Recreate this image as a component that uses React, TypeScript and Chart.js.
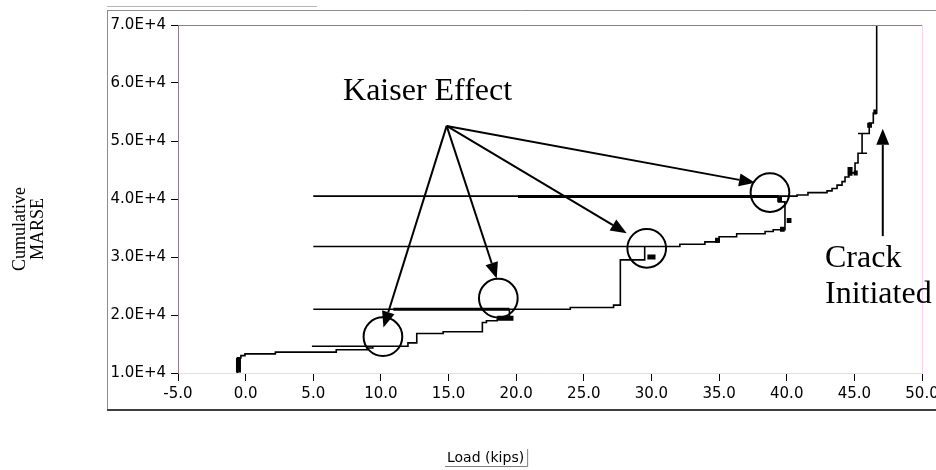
import React, { useEffect, useRef } from "react";
import { Chart, registerables } from "chart.js";

Chart.register(...registerables);

// ---------- data ----------
const xTickValues = [-5, 0, 5, 10, 15, 20, 25, 30, 35, 40, 45, 50];
const yTickValues = [10000, 20000, 30000, 40000, 50000, 60000, 70000];

// cumulative MARSE vs load path (load cycles included)
const pathLoad = [
  -0.6, -0.6, -0.35, -0.35, -0.05, -0.05, 2.2, 2.2, 6.7, 6.7, 9.0, 9.0, 9.4, 9.4,
  12.0, 4.9, 12.0, 12.0, 12.65, 12.65, 14.6, 14.6, 17.5, 17.5, 17.8, 17.8, 18.6, 18.6,
  19.5, 19.5, 5.0, 24.0, 24.0, 27.2, 27.2, 27.7, 27.7, 29.5, 29.5, 5.0, 32.1, 32.1,
  33.95, 33.95, 35.0, 35.0, 36.3, 36.3, 38.4, 38.4, 39.0, 39.0, 39.87, 39.87, 39.4, 39.4,
  5.0, 40.76, 40.76, 41.57, 41.57, 42.98, 42.98, 43.35, 43.35, 43.72, 43.72, 44.09, 44.09,
  44.31, 44.31, 44.6, 44.6, 45.05, 45.05, 45.27, 45.27, 45.94, 45.57, 45.57, 45.27, 45.94,
  46.1, 46.1, 46.4, 46.4, 46.65, 46.65,
];
const pathMarse = [
  10000, 12600, 12600, 13000, 13000, 13300, 13300, 13600, 13600, 14000, 14000, 14300, 14300, 14600,
  14600, 14600, 14600, 15200, 15200, 16800, 16800, 17100, 17100, 18700, 18700, 19000, 19000, 19300,
  19300, 21000, 21000, 21000, 21300, 21300, 21700, 21700, 29500, 29500, 31800, 31800, 31800, 32200,
  32200, 32600, 32600, 33500, 33500, 34000, 34000, 34400, 34400, 34700, 34700, 39500, 39500, 40500,
  40500, 40500, 40700, 40700, 41100, 41100, 41400, 41400, 41800, 41800, 42400, 42400, 43000,
  43000, 43800, 43800, 44500, 44500, 46200, 46200, 47900, 47900, 47900, 51300, 51300, 51300,
  51300, 53100, 53100, 54800, 54800, 70000,
];

// doubled (thick) stretches of the unload / reload lines
const thickStart = [10.92, 20.13];
const thickEnd = [19.5, 39.4];
const thickMarse = [21000, 40450];

// dense event clusters (short heavy marks)
const blobLoadA = [-0.53, 18.6, 29.7, 34.7, 39.5, 40.0, 39.3, 44.68, 44.95, 45.95, 46.4];
const blobLoadB = [-0.53, 19.8, 30.3, 35.05, 39.85, 40.35, 39.65, 44.68, 45.25, 46.3, 46.65];
const blobMarseA = [10100, 19450, 30000, 32900, 34800, 36300, 39900, 44000, 44500, 52700, 55000];
const blobMarseB = [12600, 19450, 30000, 32900, 34800, 36300, 39900, 45500, 44500, 52700, 55000];

// Kaiser effect annotation
const kaiserLabel = "Kaiser Effect";
const kaiserLabelAt = { load: 7.2, marse: 57100 };
const kaiserOrigin = { load: 14.86, marse: 52600 };
const circleLoad = [10.15, 18.68, 29.65, 38.76];
const circleMarse = [16260, 22900, 31500, 41100];
const circleRadiusLoad = 1.43;
const arrowTipLoad = [10.19, 18.56, 28.17, 37.66];
const arrowTipMarse = [17840, 26300, 34100, 42800];

// crack annotation
const crackLines = ["Crack", "Initiated"];
const crackLabelLoad = 42.83;
const crackLabelMarse = [28300, 22100];
const crackArrowLoad = 47.1;
const crackArrowFrom = 33600;
const crackArrowTo = 52100;

const yTitleLines = ["Cumulative", "MARSE"];
const xTitle = "Load (kips)";

// ---------- helpers ----------
function pairs(xs: number[], ys: number[]) {
  return xs.map((x, i) => ({ x, y: ys[i] }));
}
function segments(x1: number[], x2: number[], y1: number[], y2: number[]) {
  const out: any[] = [];
  x1.forEach((_, i) => {
    out.push({ x: x1[i], y: y1[i] });
    out.push({ x: x2[i], y: y2[i] });
    out.push({ x: x2[i], y: null });
  });
  return out;
}

function arrow(ctx: CanvasRenderingContext2D, x1: number, y1: number, x2: number, y2: number) {
  const len = 16;
  const half = 6.5;
  const ang = Math.atan2(y2 - y1, x2 - x1);
  const bx = x2 - len * Math.cos(ang);
  const by = y2 - len * Math.sin(ang);
  ctx.beginPath();
  ctx.moveTo(x1, y1);
  ctx.lineTo(bx, by);
  ctx.stroke();
  ctx.beginPath();
  ctx.moveTo(x2, y2);
  ctx.lineTo(bx + half * Math.sin(ang), by - half * Math.cos(ang));
  ctx.lineTo(bx - half * Math.sin(ang), by + half * Math.cos(ang));
  ctx.closePath();
  ctx.fill();
}

const overlayPlugin = {
  id: "overlay",
  beforeDraw(chart: any) {
    const { ctx, width, height, chartArea } = chart;
    ctx.save();
    ctx.fillStyle = "#ffffff";
    ctx.fillRect(0, 0, width, height);
    const fl = chartArea.left - 71;
    const ft = chartArea.top - 15;
    const fb = chartArea.bottom + 37;
    ctx.lineWidth = 1;
    ctx.strokeStyle = "#b4b4b4";
    ctx.beginPath();
    ctx.moveTo(fl, ft - 3.5);
    ctx.lineTo(fl + 210, ft - 3.5);
    ctx.stroke();
    ctx.strokeStyle = "#8c8c8c";
    ctx.beginPath();
    ctx.moveTo(fl, ft + 0.5);
    ctx.lineTo(width, ft + 0.5);
    ctx.moveTo(fl + 0.5, ft);
    ctx.lineTo(fl + 0.5, fb);
    ctx.stroke();
    ctx.strokeStyle = "#404040";
    ctx.lineWidth = 2;
    ctx.beginPath();
    ctx.moveTo(fl, fb);
    ctx.lineTo(width, fb);
    ctx.stroke();
    ctx.restore();
  },
  afterDraw(chart: any) {
    const { ctx, chartArea } = chart;
    const xs = chart.scales.x;
    const ys = chart.scales.y;
    ctx.save();
    // plot frame top / right
    ctx.lineWidth = 1;
    ctx.strokeStyle = "#8e7b8e";
    ctx.beginPath();
    ctx.moveTo(chartArea.left, chartArea.top + 0.5);
    ctx.lineTo(chartArea.right, chartArea.top + 0.5);
    ctx.stroke();
    ctx.strokeStyle = "#f6d2f6";
    ctx.beginPath();
    ctx.moveTo(chartArea.right + 0.5, chartArea.top);
    ctx.lineTo(chartArea.right + 0.5, chartArea.bottom);
    ctx.stroke();

    // Kaiser effect
    ctx.fillStyle = "#000";
    ctx.strokeStyle = "#000";
    ctx.font = '32px "Liberation Serif", "Times New Roman", serif';
    ctx.textAlign = "left";
    ctx.textBaseline = "alphabetic";
    ctx.fillText(kaiserLabel, xs.getPixelForValue(kaiserLabelAt.load), ys.getPixelForValue(kaiserLabelAt.marse));
    ctx.lineWidth = 2;
    const r = xs.getPixelForValue(circleRadiusLoad) - xs.getPixelForValue(0);
    circleLoad.forEach((cl, i) => {
      ctx.beginPath();
      ctx.arc(xs.getPixelForValue(cl), ys.getPixelForValue(circleMarse[i]), r, 0, Math.PI * 2);
      ctx.stroke();
    });
    const ox = xs.getPixelForValue(kaiserOrigin.load);
    const oy = ys.getPixelForValue(kaiserOrigin.marse);
    arrowTipLoad.forEach((tl, i) => {
      arrow(ctx, ox, oy, xs.getPixelForValue(tl), ys.getPixelForValue(arrowTipMarse[i]));
    });

    // crack
    const cx = xs.getPixelForValue(crackArrowLoad);
    arrow(ctx, cx, ys.getPixelForValue(crackArrowFrom), cx, ys.getPixelForValue(crackArrowTo));
    crackLines.forEach((t, i) => {
      ctx.fillText(t, xs.getPixelForValue(crackLabelLoad), ys.getPixelForValue(crackLabelMarse[i]));
    });

    // y title
    ctx.font = '18px "Liberation Serif", "Times New Roman", serif';
    ctx.textAlign = "center";
    const midY = chartArea.top + 204;
    yTitleLines.forEach((t, i) => {
      ctx.save();
      ctx.translate(25 + i * 18, midY);
      ctx.rotate(-Math.PI / 2);
      ctx.fillText(t, 0, 0);
      ctx.restore();
    });

    // x title with sunken box
    ctx.font = '14px "DejaVu Sans", sans-serif';
    ctx.textAlign = "left";
    const tx = 447;
    const tyBase = chartArea.bottom + 89;
    ctx.fillText(xTitle, tx, tyBase);
    const tw = ctx.measureText(xTitle).width;
    ctx.lineWidth = 1;
    ctx.strokeStyle = "#808080";
    ctx.beginPath();
    ctx.moveTo(tx - 2, tyBase + 4.5);
    ctx.lineTo(tx + tw + 3.5, tyBase + 4.5);
    ctx.lineTo(tx + tw + 3.5, tyBase - 13);
    ctx.stroke();
    ctx.restore();
  },
};

export default function App() {
  const ref = useRef<HTMLCanvasElement | null>(null);
  useEffect(() => {
    document.body.style.margin = "0";
    if (!ref.current) return;
    const tickFont = { family: '"DejaVu Sans", sans-serif', size: 15 };
    const chart = new Chart(ref.current, {
      type: "scatter",
      data: {
        datasets: [
          {
            data: pairs(pathLoad, pathMarse),
            showLine: true,
            borderColor: "#000",
            borderWidth: 1.6,
            pointRadius: 0,
            tension: 0,
          },
          {
            data: segments(thickStart, thickEnd, thickMarse, thickMarse),
            showLine: true,
            spanGaps: false,
            borderColor: "#000",
            borderWidth: 3,
            pointRadius: 0,
          },
          {
            data: segments(blobLoadA, blobLoadB, blobMarseA, blobMarseB),
            showLine: true,
            spanGaps: false,
            borderColor: "#000",
            borderWidth: 5,
            pointRadius: 0,
          },
        ],
      },
      options: {
        responsive: false,
        animation: false,
        events: [],
        layout: { padding: { left: 0, top: 25, right: 14, bottom: 0 } },
        plugins: { legend: { display: false }, tooltip: { enabled: false } },
        scales: {
          x: {
            type: "linear",
            min: -5,
            max: 50,
            afterBuildTicks: (s: any) => {
              s.ticks = xTickValues.map((v) => ({ value: v }));
            },
            afterFit: (s: any) => {
              s.height = 97;
              s.paddingLeft = 0;
              s.paddingRight = 0;
            },
            ticks: {
              autoSkip: false,
              maxRotation: 0,
              color: "#000",
              font: tickFont,
              padding: 4,
              callback: (v: any) => Number(v).toFixed(1),
            },
            grid: { drawOnChartArea: false, drawTicks: true, tickLength: 8, color: "#000" },
            border: { display: true, color: "#f6d2f6", width: 1 },
          },
          y: {
            type: "linear",
            min: 10000,
            max: 70000,
            afterBuildTicks: (s: any) => {
              s.ticks = yTickValues.map((v) => ({ value: v }));
            },
            afterFit: (s: any) => {
              s.width = 178;
              s.paddingTop = 0;
              s.paddingBottom = 0;
            },
            ticks: {
              autoSkip: false,
              color: "#000",
              font: tickFont,
              padding: 5,
              callback: (v: any) => (Number(v) / 10000).toFixed(1) + "E+4",
            },
            grid: { drawOnChartArea: false, drawTicks: true, tickLength: 7, color: "#000" },
            border: { display: true, color: "#8e7b8e", width: 1 },
          },
        },
      },
      plugins: [overlayPlugin],
    } as any);
    return () => chart.destroy();
  }, []);
  return (
    <div style={{ width: 936, height: 470 }}>
      <canvas ref={ref} width={936} height={470} style={{ display: "block" }} />
    </div>
  );
}
